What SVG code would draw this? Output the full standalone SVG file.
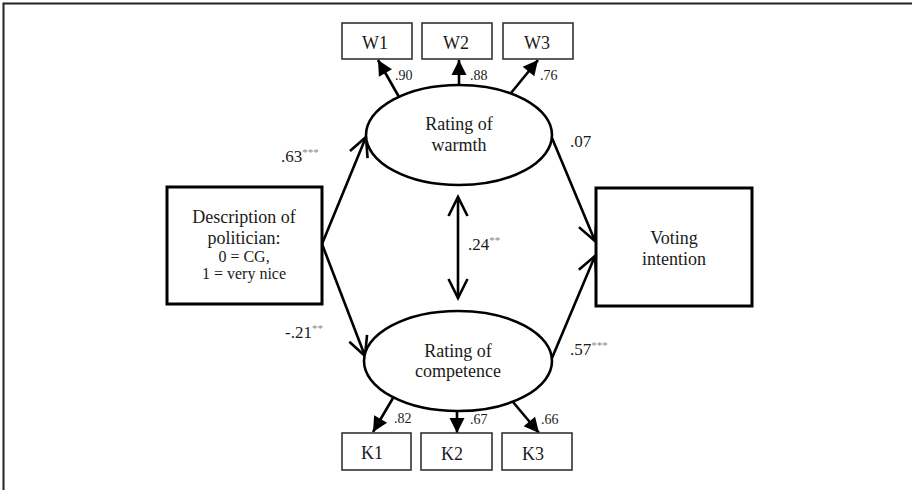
<svg xmlns="http://www.w3.org/2000/svg" width="912" height="490" viewBox="0 0 912 490">
<style>
text{font-family:"Liberation Serif","Times New Roman",serif;fill:#1a1a1a}
.big{font-size:18px}
.mid{font-size:16px}
.lab{font-size:17px}
.sm{font-size:14px}
.star{font-size:11px;fill:#888}
.conn{stroke:#000;stroke-width:2.6;fill:none}
.thick{fill:#fff;stroke:#000;stroke-width:3}
.thin{fill:#fff;stroke:#333;stroke-width:1.6}
.ell{fill:#fff;stroke:#000;stroke-width:2.6}
</style>
<defs>
<marker id="open" markerUnits="userSpaceOnUse" markerWidth="30" markerHeight="30" refX="0" refY="0" viewBox="-25 -15 30 30" orient="auto-start-reverse" overflow="visible">
<path d="M-19,-9.5 L0,0 L-19,9.5" fill="none" stroke="#000" stroke-width="2.6" stroke-linejoin="miter"/>
</marker>
<marker id="fill" markerUnits="userSpaceOnUse" markerWidth="30" markerHeight="30" refX="0" refY="0" viewBox="-25 -15 30 30" orient="auto" overflow="visible">
<path d="M-15,-7.5 L0,0 L-15,7.5 Z" fill="#000"/>
</marker>
</defs>
<rect width="912" height="490" fill="#fff"/>
<path d="M3.5,490 V3.5 H912" fill="none" stroke="#222" stroke-width="2"/>

<g id="connectors">
<path class="conn" d="M322,244 L366,137" marker-end="url(#open)"/>
<path class="conn" d="M322,244 L365,356" marker-end="url(#open)"/>
<path class="conn" d="M552,138 L595,241" marker-end="url(#open)"/>
<path class="conn" d="M552,358 L595,256" marker-end="url(#open)"/>
<path class="conn" d="M458,197 L458,298" marker-start="url(#open)" marker-end="url(#open)"/>
<path class="conn" d="M399,97 L378,60" marker-end="url(#fill)"/>
<path class="conn" d="M459,85 L459,60" marker-end="url(#fill)"/>
<path class="conn" d="M511,93 L538,60" marker-end="url(#fill)"/>
<path class="conn" d="M393,398 L373,432" marker-end="url(#fill)"/>
<path class="conn" d="M457,411 L457,433" marker-end="url(#fill)"/>
<path class="conn" d="M513,402 L539,433" marker-end="url(#fill)"/>
</g>

<g id="labels">
<text class="lab" x="281" y="162">.63<tspan class="star" dy="-6">***</tspan></text>
<text class="lab" x="285" y="338">-.21<tspan class="star" dy="-6">**</tspan></text>
<text class="lab" x="570" y="147">.07</text>
<text class="lab" x="570" y="355">.57<tspan class="star" dy="-6">***</tspan></text>
<text class="lab" x="468" y="250">.24<tspan class="star" dy="-6">**</tspan></text>
<text class="sm" x="395" y="80">.90</text>
<text class="sm" x="470" y="80">.88</text>
<text class="sm" x="540" y="80">.76</text>
<text class="sm" x="394" y="423">.82</text>
<text class="sm" x="470" y="424">.67</text>
<text class="sm" x="541" y="424">.66</text>
</g>

<g id="desc">
<rect class="thick" x="167" y="187" width="155" height="117"/>
<text class="big" x="244" y="223" text-anchor="middle">Description of</text>
<text class="big" x="244" y="244" text-anchor="middle">politician:</text>
<text class="mid" x="244" y="262" text-anchor="middle">0 = CG,</text>
<text class="mid" x="244" y="279" text-anchor="middle">1 = very nice</text>
</g>

<g id="voting">
<rect class="thick" x="596" y="188" width="156" height="118"/>
<text class="big" x="674" y="244" text-anchor="middle">Voting</text>
<text class="big" x="674" y="265" text-anchor="middle">intention</text>
</g>

<g id="warmth">
<ellipse class="ell" cx="459" cy="135" rx="93" ry="50"/>
<text class="big" x="459" y="130" text-anchor="middle">Rating of</text>
<text class="big" x="459" y="151" text-anchor="middle">warmth</text>
</g>

<g id="competence">
<ellipse class="ell" cx="458" cy="361" rx="94" ry="50"/>
<text class="big" x="458" y="357" text-anchor="middle">Rating of</text>
<text class="big" x="458" y="377" text-anchor="middle">competence</text>
</g>

<g id="W1"><rect class="thin" x="342" y="23" width="70" height="36"/><text class="big" x="375" y="49" text-anchor="middle">W1</text></g>
<g id="W2"><rect class="thin" x="422" y="23" width="70" height="36"/><text class="big" x="456" y="49" text-anchor="middle">W2</text></g>
<g id="W3"><rect class="thin" x="503" y="23" width="70" height="36"/><text class="big" x="537" y="49" text-anchor="middle">W3</text></g>
<g id="K1"><rect class="thin" x="342" y="433" width="69" height="37"/><text class="big" x="372" y="459" text-anchor="middle">K1</text></g>
<g id="K2"><rect class="thin" x="421" y="433" width="71" height="37"/><text class="big" x="452" y="460" text-anchor="middle">K2</text></g>
<g id="K3"><rect class="thin" x="502" y="433" width="70" height="37"/><text class="big" x="533" y="460" text-anchor="middle">K3</text></g>
</svg>
